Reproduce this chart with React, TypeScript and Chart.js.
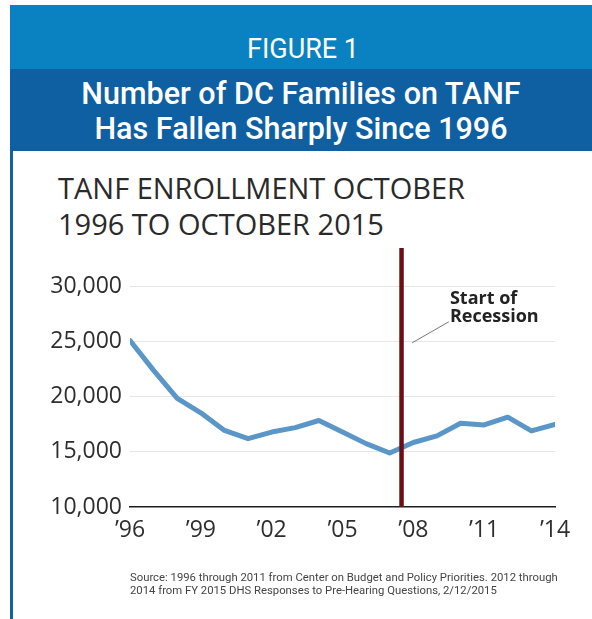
import React, { useEffect, useRef } from "react";
import { Chart, registerables } from "chart.js";

Chart.register(...registerables);

const years = [1996, 1997, 1998, 1999, 2000, 2001, 2002, 2003, 2004, 2005, 2006, 2007, 2008, 2009, 2010, 2011, 2012, 2013, 2014];
const families = [25100, 22400, 19850, 18550, 16950, 16200, 16800, 17200, 17850, 16800, 15750, 14900, 15850, 16450, 17600, 17450, 18150, 16900, 17500];
const xTickYears = [1996, 1999, 2002, 2005, 2008, 2011, 2014];
const yTicks = [10000, 15000, 20000, 25000, 30000];
const yMin = 10000;
const yMax = 33500;
const recessionYear = 2007.5;
const annotationLines = ["Start of", "Recession"];
const annotationAnchor = { x: 2009.55, y1: 28460, y2: 26745 };
const leaderFrom = { x: 2009.5, y: 26800 };
const leaderTo = { x: 2007.95, y: 24900 };

const FONT = "'Open Sans', 'Noto Sans', sans-serif";

const annotationPlugin = {
  id: "recessionNote",
  afterDatasetsDraw(chart: any) {
    const { ctx, scales } = chart;
    const xs = scales.x;
    const ys = scales.y;
    ctx.save();
    ctx.strokeStyle = "#777";
    ctx.lineWidth = 1;
    ctx.beginPath();
    ctx.moveTo(xs.getPixelForValue(leaderFrom.x), ys.getPixelForValue(leaderFrom.y));
    ctx.lineTo(xs.getPixelForValue(leaderTo.x), ys.getPixelForValue(leaderTo.y));
    ctx.stroke();
    ctx.fillStyle = "#222";
    ctx.font = `bold 18px ${FONT}`;
    ctx.textAlign = "left";
    ctx.textBaseline = "alphabetic";
    const ax = xs.getPixelForValue(annotationAnchor.x);
    ctx.fillText(annotationLines[0], ax, ys.getPixelForValue(annotationAnchor.y1));
    ctx.fillText(annotationLines[1], ax, ys.getPixelForValue(annotationAnchor.y2));
    ctx.restore();
  },
};

function TanfChart() {
  const ref = useRef<HTMLCanvasElement>(null);
  useEffect(() => {
    if (!ref.current) return;
    const chart = new Chart(ref.current, {
      type: "line",
      data: {
        datasets: [
          {
            data: years.map((yr, i) => ({ x: yr, y: families[i] })),
            borderColor: "#5b96c9",
            borderWidth: 5,
            pointRadius: 0,
            tension: 0,
            borderJoinStyle: "round",
            borderCapStyle: "round",
            order: 2,
          },
          {
            data: [
              { x: recessionYear, y: yMin },
              { x: recessionYear, y: yMax },
            ],
            borderColor: "#6a0f16",
            borderWidth: 4.5,
            pointRadius: 0,
            order: 1,
          },
        ],
      },
      options: {
        animation: false,
        responsive: false,
        maintainAspectRatio: false,
        layout: { padding: { left: 0, right: 37, top: 97, bottom: 72 } },
        plugins: { legend: { display: false }, tooltip: { enabled: false }, title: { display: false } },
        scales: {
          x: {
            type: "linear",
            min: years[0],
            max: years[years.length - 1],
            afterBuildTicks: (s: any) => {
              s.ticks = xTickYears.map((v) => ({ value: v }));
            },
            afterFit: (s: any) => {
              s.height = 40;
            },
            grid: { display: false, drawTicks: false },
            border: { display: true, color: "#1e1e1e", width: 1.5 },
            ticks: {
              padding: 10,
              color: "#2e2e2e",
              font: { family: FONT, size: 23 },
              maxRotation: 0,
              autoSkip: false,
              callback: (v: any) => "\u2019" + String(v).slice(2),
            },
          },
          y: {
            min: yMin,
            max: yMax,
            afterBuildTicks: (s: any) => {
              s.ticks = yTicks.map((v) => ({ value: v }));
            },
            afterFit: (s: any) => {
              s.width = 117;
            },
            grid: {
              drawTicks: false,
              color: (c: any) => (c.tick && c.tick.value === yMin ? "rgba(0,0,0,0)" : "#e6e6e6"),
              lineWidth: 1,
            },
            border: { display: false },
            ticks: {
              padding: 8,
              color: "#2e2e2e",
              font: { family: FONT, size: 23 },
              callback: (v: any) => Number(v).toLocaleString("en-US"),
            },
          },
        },
      },
      plugins: [annotationPlugin],
    } as any);
    return () => chart.destroy();
  }, []);
  return <canvas ref={ref} width={579} height={468} style={{ width: 579, height: 468, display: "block" }} />;
}

export default function App() {
  return (
    <div style={{ position: "absolute", left: 0, top: 0, width: 592, height: 619, background: "#fff", overflow: "hidden" }}>
      <div style={{ position: "absolute", left: 10, top: 5, width: 582, height: 64, background: "#0a82c1" }} />
      <div
        style={{
          position: "absolute",
          left: 12,
          top: 33,
          width: 582,
          textAlign: "center",
          color: "#fff",
          font: "400 27px Roboto, sans-serif",
          lineHeight: "32px",
        }}
      >
        FIGURE 1
      </div>
      <div style={{ position: "absolute", left: 10, top: 69, width: 582, height: 82, background: "#0f5fa3" }} />
      <div
        style={{
          position: "absolute",
          left: 10,
          top: 76,
          width: 582,
          textAlign: "center",
          color: "#fff",
          font: "500 30.5px Roboto, sans-serif",
          lineHeight: "35px",
        }}
      >
        Number of DC Families on TANF
        <br />
        Has Fallen Sharply Since 1996
      </div>
      <div style={{ position: "absolute", left: 10, top: 151, width: 3, height: 468, background: "#1561a7" }} />
      <div
        style={{
          position: "absolute",
          left: 58,
          top: 170,
          color: "#2a2a2a",
          font: `400 29px ${FONT}`,
          lineHeight: "36px",
          whiteSpace: "nowrap",
        }}
      >
        TANF ENROLLMENT OCTOBER
        <br />
        1996 TO OCTOBER 2015
      </div>
      <div style={{ position: "absolute", left: 13, top: 151 }}>
        <TanfChart />
      </div>
      <div
        style={{
          position: "absolute",
          left: 130,
          top: 571,
          color: "#444",
          font: "400 11.3px Roboto, sans-serif",
          lineHeight: "13px",
          whiteSpace: "nowrap",
        }}
      >
        Source: 1996 through 2011 from Center on Budget and Policy Priorities. 2012 through
        <br />
        2014 from FY 2015 DHS Responses to Pre-Hearing Questions, 2/12/2015
      </div>
    </div>
  );
}
